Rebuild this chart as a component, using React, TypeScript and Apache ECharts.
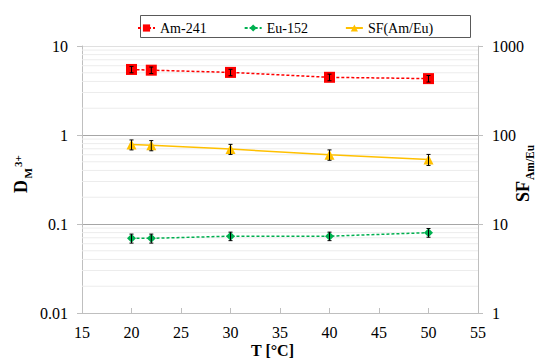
import React, { useEffect, useRef } from "react";
import * as echarts from "echarts";

const temps = [20, 22, 30, 40, 50];
const amValues = [5.45, 5.35, 5.05, 4.45, 4.3];
const amErr = [0.45, 0.45, 0.42, 0.38, 0.36];
const euValues = [0.069, 0.069, 0.073, 0.073, 0.08];
const euErr = [0.008, 0.008, 0.008, 0.008, 0.009];
const sfValues = [78, 76.5, 69.5, 60, 53];
const sfErr = [10, 10, 9, 8, 7.5];
const leftMinor = [0.02, 0.03, 0.04, 0.05, 0.06, 0.07, 0.08, 0.09, 0.2, 0.3, 0.4, 0.5, 0.6, 0.7, 0.8, 0.9, 2, 3, 4, 5, 6, 7, 8, 9];

const FONT = "Liberation Serif";

function errSeries(name: string, values: number[], errs: number[], yAxisIndex: number) {
  return {
    name,
    type: "custom",
    xAxisIndex: 0,
    yAxisIndex,
    z: 5,
    silent: true,
    encode: { x: 0, y: [1, 2] },
    data: temps.map((t, i) => [t, values[i] - errs[i], values[i] + errs[i]]),
    renderItem: (params: any, api: any) => {
      const x = api.value(0);
      const lo = api.coord([x, api.value(1)]);
      const hi = api.coord([x, api.value(2)]);
      const st = { stroke: "#000", lineWidth: 1 };
      return {
        type: "group",
        children: [
          { type: "line", shape: { x1: lo[0], y1: lo[1], x2: hi[0], y2: hi[1] }, style: st },
          { type: "line", shape: { x1: lo[0] - 2, y1: lo[1], x2: lo[0] + 2, y2: lo[1] }, style: st },
          { type: "line", shape: { x1: hi[0] - 2, y1: hi[1], x2: hi[0] + 2, y2: hi[1] }, style: st },
        ],
      };
    },
  };
}

export default function App() {
  const ref = useRef<HTMLDivElement>(null);
  useEffect(() => {
    if (!ref.current) return;
    const chart = echarts.init(ref.current, null, { renderer: "svg" });
    const fmt = (v: number) => String(+Number(v).toPrecision(3));
    const txt = (size: number, bold = false) => ({
      fontFamily: FONT,
      fontSize: size,
      fontWeight: bold ? "bold" : "normal",
      fill: "#000",
      verticalAlign: "middle",
      align: "left",
    });
    chart.setOption({
      animation: false,
      backgroundColor: "#fff",
      textStyle: { fontFamily: FONT },
      grid: { left: 82, right: 61, top: 46, bottom: 48, containLabel: false },
      legend: {
        data: ["Am-241", "Eu-152", "SF(Am/Eu)"],
        left: 132,
        top: 16,
        padding: 5,
        itemWidth: 17,
        itemHeight: 9,
        itemGap: 37,
        textStyle: { fontFamily: FONT, fontSize: 14, color: "#000" },
      },
      xAxis: {
        type: "value",
        min: 15,
        max: 55,
        interval: 5,
        axisLine: { show: true, lineStyle: { color: "#bfbfbf" } },
        axisTick: { show: true, inside: true, length: 5, lineStyle: { color: "#bfbfbf" } },
        splitLine: { show: false },
        axisLabel: { fontFamily: FONT, fontSize: 16, color: "#000", margin: 11 },
      },
      yAxis: [
        {
          type: "log",
          logBase: 10,
          min: 0.01,
          max: 10,
          axisLine: { show: true, lineStyle: { color: "#bfbfbf" } },
          axisTick: { show: true, inside: false, length: 5, lineStyle: { color: "#bfbfbf" } },
          splitLine: { show: true, lineStyle: { color: ["#bfbfbf", "#a6a6a6", "#a6a6a6", "#e0e0e0"] } },
          axisLabel: { fontFamily: FONT, fontSize: 16, color: "#000", margin: 14, formatter: fmt },
        },
        {
          type: "log",
          logBase: 10,
          min: 1,
          max: 1000,
          position: "right",
          axisLine: { show: true, lineStyle: { color: "#bfbfbf" } },
          axisTick: { show: true, inside: false, length: 5, lineStyle: { color: "#bfbfbf" } },
          splitLine: { show: false },
          axisLabel: { fontFamily: FONT, fontSize: 16, color: "#000", margin: 14, formatter: fmt },
        },
      ],
      series: [
        {
          name: "minorGrid",
          type: "custom",
          xAxisIndex: 0,
          yAxisIndex: 0,
          z: 1,
          silent: true,
          data: leftMinor.map((v) => [v]),
          encode: { y: 0 },
          renderItem: (params: any, api: any) => {
            const v = api.value(0);
            const a = api.coord([15, v]);
            const b = api.coord([55, v]);
            return {
              type: "line",
              shape: { x1: a[0], y1: a[1], x2: b[0], y2: b[1] },
              style: { stroke: "#ececec", lineWidth: 1 },
            };
          },
        },
        {
          name: "Am-241",
          type: "line",
          yAxisIndex: 0,
          data: temps.map((t, i) => [t, amValues[i]]),
          symbol: "rect",
          symbolSize: 11,
          itemStyle: { color: "#ff0000" },
          lineStyle: { color: "#ff0000", width: 1.5, type: [3, 2] },
          z: 3,
        },
        {
          name: "Eu-152",
          type: "line",
          yAxisIndex: 0,
          data: temps.map((t, i) => [t, euValues[i]]),
          symbol: "diamond",
          symbolSize: 9,
          itemStyle: { color: "#00b050" },
          lineStyle: { color: "#00b050", width: 1.5, type: [3, 2] },
          z: 3,
        },
        {
          name: "SF(Am/Eu)",
          type: "line",
          yAxisIndex: 1,
          data: temps.map((t, i) => [t, sfValues[i]]),
          symbol: "triangle",
          symbolSize: 10,
          itemStyle: { color: "#ffc000" },
          lineStyle: { color: "#ffc000", width: 1.5 },
          z: 3,
        },
        errSeries("amErr", amValues, amErr, 0),
        errSeries("euErr", euValues, euErr, 0),
        errSeries("sfErr", sfValues, sfErr, 1),
      ],
      graphic: [
        {
          type: "rect",
          shape: { x: 140.5, y: 15.5, width: 330, height: 22 },
          style: { fill: "none", stroke: "#595959", lineWidth: 1 },
          silent: true,
        },
        {
          type: "text",
          left: 251,
          top: 342,
          style: { text: "T [°C]", fontFamily: FONT, fontSize: 16, fontWeight: "bold", fill: "#000" },
        },
        {
          type: "group",
          x: 20.5,
          y: 193,
          rotation: Math.PI / 2,
          children: [
            { type: "text", x: 0, y: 0, style: { text: "D", ...txt(18, true) } },
            { type: "text", x: 14.5, y: 7, style: { text: "M", ...txt(11, true) } },
            { type: "text", x: 26, y: -3, style: { text: "3+", ...txt(11, true) } },
          ],
        },
        {
          type: "group",
          x: 523,
          y: 202,
          rotation: Math.PI / 2,
          children: [
            { type: "text", x: 0, y: 0, style: { text: "SF", ...txt(18, true) } },
            { type: "text", x: 22, y: 7, style: { text: "Am/Eu", ...txt(11.5, true) } },
          ],
        },
      ],
    });
    return () => chart.dispose();
  }, []);
  return <div ref={ref} style={{ width: 539, height: 361, position: "fixed", left: 0, top: 0 }} />;
}
